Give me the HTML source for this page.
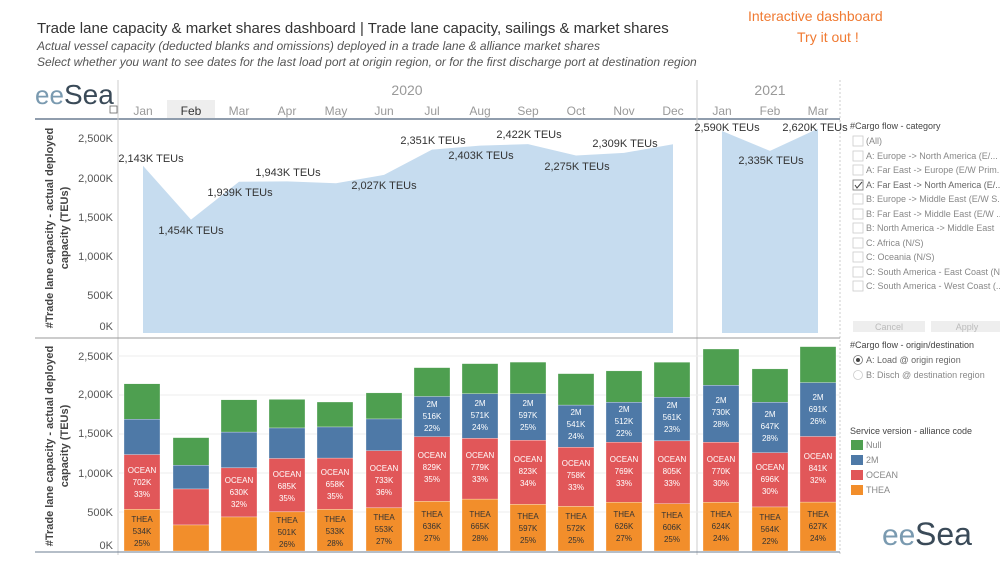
<!DOCTYPE html>
<html><head><meta charset="utf-8"><style>
body{margin:0;background:#fff;width:1000px;height:562px;overflow:hidden;font-family:"Liberation Sans",sans-serif}
svg text{font-family:"Liberation Sans",sans-serif}
</style></head><body>
<svg width="1000" height="562" viewBox="0 0 1000 562" xmlns="http://www.w3.org/2000/svg">
<text x="37" y="33" font-size="15" fill="#333">Trade lane capacity &amp; market shares dashboard  |  Trade lane capacity, sailings &amp; market shares</text>
<text x="37" y="50" font-size="12" font-style="italic" fill="#555">Actual vessel capacity (deducted blanks and omissions) deployed in a trade lane &amp; alliance market shares</text>
<text x="37" y="66" font-size="12" font-style="italic" fill="#555">Select whether you want to see dates for the last load port at origin region, or for the first discharge port at destination region</text>
<text x="748" y="21" font-size="14" fill="#f07a32">Interactive dashboard</text>
<text x="797" y="42" font-size="14" fill="#f07a32">Try it out !</text>
<text x="35" y="104" font-size="26" fill="#7a9ab0">ee</text><text x="64" y="104" font-size="28" fill="#3a4a58">Sea</text>
<rect x="110" y="106" width="7" height="7" fill="none" stroke="#666" stroke-width="0.8"/>
<text x="407" y="95" font-size="14" fill="#999" text-anchor="middle">2020</text>
<text x="770" y="95" font-size="14" fill="#999" text-anchor="middle">2021</text>
<rect x="167" y="100" width="48" height="18" fill="#eee"/>
<g font-size="12" fill="#999" text-anchor="middle">
<text x="143" y="115">Jan</text><text x="191" y="115" fill="#333">Feb</text><text x="239" y="115">Mar</text><text x="287" y="115">Apr</text><text x="336" y="115">May</text><text x="384" y="115">Jun</text><text x="432" y="115">Jul</text><text x="480" y="115">Aug</text><text x="528" y="115">Sep</text><text x="576" y="115">Oct</text><text x="624" y="115">Nov</text><text x="673" y="115">Dec</text><text x="722" y="115">Jan</text><text x="770" y="115">Feb</text><text x="818" y="115">Mar</text>
</g>
<line x1="35" y1="119" x2="840" y2="119" stroke="#6b7d92" stroke-width="1.5"/>
<line x1="118" y1="80" x2="118" y2="555" stroke="#ccc"/>
<line x1="697" y1="80" x2="697" y2="555" stroke="#ccc"/>
<line x1="840" y1="80" x2="840" y2="555" stroke="#ccc" stroke-dasharray="2,2"/>
<line x1="35" y1="338" x2="840" y2="338" stroke="#999"/>
<line x1="35" y1="552" x2="840" y2="552" stroke="#6b7d92"/>
<g stroke="#eee"><line x1="118" y1="356" x2="840" y2="356"/><line x1="118" y1="395" x2="840" y2="395"/><line x1="118" y1="434" x2="840" y2="434"/><line x1="118" y1="473" x2="840" y2="473"/><line x1="118" y1="512" x2="840" y2="512"/></g>
<path fill="#c6dcef" d="M143,333 L143,165.8 L191,219.6 L239,181.8 L287,181.4 L336,183.2 L384,174.9 L432,149.6 L480,145.6 L528,144.1 L576,155.5 L624,152.9 L673,144.2 L673,333 Z"/>
<path fill="#c6dcef" d="M722,333 L722,131 L770,150.9 L818,128.6 L818,333 Z"/>
<g font-size="11" fill="#555" text-anchor="end">
<text x="113" y="142">2,500K</text><text x="113" y="182">2,000K</text><text x="113" y="221">1,500K</text><text x="113" y="260">1,000K</text><text x="113" y="299">500K</text><text x="113" y="330">0K</text>
<text x="113" y="360">2,500K</text><text x="113" y="398">2,000K</text><text x="113" y="437">1,500K</text><text x="113" y="477">1,000K</text><text x="113" y="516">500K</text><text x="113" y="549">0K</text>
</g>
<g font-size="11" fill="#444" font-weight="bold" text-anchor="middle">
<text transform="translate(53,228) rotate(-90)">#Trade lane capacity - actual deployed</text>
<text transform="translate(68,228) rotate(-90)">capacity (TEUs)</text>
<text transform="translate(53,446) rotate(-90)">#Trade lane capacity - actual deployed</text>
<text transform="translate(68,446) rotate(-90)">capacity (TEUs)</text>
</g>
<g font-size="11" fill="#333" text-anchor="middle">
<text x="151" y="162">2,143K TEUs</text><text x="191" y="234">1,454K TEUs</text><text x="240" y="196">1,939K TEUs</text><text x="288" y="176">1,943K TEUs</text><text x="384" y="189">2,027K TEUs</text><text x="433" y="144">2,351K TEUs</text><text x="481" y="159">2,403K TEUs</text><text x="529" y="138">2,422K TEUs</text><text x="577" y="170">2,275K TEUs</text><text x="625" y="147">2,309K TEUs</text><text x="727" y="131">2,590K TEUs</text><text x="771" y="164">2,335K TEUs</text><text x="815" y="131">2,620K TEUs</text>
</g>
<g stroke="#fff" stroke-width="0.3">
<g transform="translate(124,0)"><rect y="383.8" width="36" height="35.4" fill="#4e9f50"/><rect y="419.2" width="36" height="35.4" fill="#4e79a7"/><rect y="454.6" width="36" height="54.7" fill="#e15759"/><rect y="509.3" width="36" height="41.7" fill="#f28e2b"/></g>
<g transform="translate(173,0)"><rect y="437.6" width="36" height="27.6" fill="#4e9f50"/><rect y="465.2" width="36" height="23.8" fill="#4e79a7"/><rect y="489" width="36" height="36" fill="#e15759"/><rect y="525" width="36" height="26" fill="#f28e2b"/></g>
<g transform="translate(221,0)"><rect y="399.8" width="36" height="32.3" fill="#4e9f50"/><rect y="432.1" width="36" height="35.8" fill="#4e79a7"/><rect y="467.9" width="36" height="49.1" fill="#e15759"/><rect y="517" width="36" height="34" fill="#f28e2b"/></g>
<g transform="translate(269,0)"><rect y="399.4" width="36" height="28.6" fill="#4e9f50"/><rect y="428" width="36" height="30.5" fill="#4e79a7"/><rect y="458.5" width="36" height="53.4" fill="#e15759"/><rect y="511.9" width="36" height="39.1" fill="#f28e2b"/></g>
<g transform="translate(317,0)"><rect y="402" width="36" height="25" fill="#4e9f50"/><rect y="427" width="36" height="31.1" fill="#4e79a7"/><rect y="458.1" width="36" height="51.3" fill="#e15759"/><rect y="509.4" width="36" height="41.6" fill="#f28e2b"/></g>
<g transform="translate(366,0)"><rect y="392.9" width="36" height="26.1" fill="#4e9f50"/><rect y="419" width="36" height="31.7" fill="#4e79a7"/><rect y="450.7" width="36" height="57.2" fill="#e15759"/><rect y="507.9" width="36" height="43.1" fill="#f28e2b"/></g>
<g transform="translate(414,0)"><rect y="367.6" width="36" height="28.9" fill="#4e9f50"/><rect y="396.5" width="36" height="40.2" fill="#4e79a7"/><rect y="436.7" width="36" height="64.7" fill="#e15759"/><rect y="501.4" width="36" height="49.6" fill="#f28e2b"/></g>
<g transform="translate(462,0)"><rect y="363.6" width="36" height="30.2" fill="#4e9f50"/><rect y="393.8" width="36" height="44.6" fill="#4e79a7"/><rect y="438.4" width="36" height="60.7" fill="#e15759"/><rect y="499.1" width="36" height="51.9" fill="#f28e2b"/></g>
<g transform="translate(510,0)"><rect y="362.1" width="36" height="31.6" fill="#4e9f50"/><rect y="393.7" width="36" height="46.5" fill="#4e79a7"/><rect y="440.2" width="36" height="64.2" fill="#e15759"/><rect y="504.4" width="36" height="46.6" fill="#f28e2b"/></g>
<g transform="translate(558,0)"><rect y="373.6" width="36" height="31.5" fill="#4e9f50"/><rect y="405.1" width="36" height="42.2" fill="#4e79a7"/><rect y="447.3" width="36" height="59.1" fill="#e15759"/><rect y="506.4" width="36" height="44.6" fill="#f28e2b"/></g>
<g transform="translate(606,0)"><rect y="370.9" width="36" height="31.4" fill="#4e9f50"/><rect y="402.3" width="36" height="40" fill="#4e79a7"/><rect y="442.2" width="36" height="60" fill="#e15759"/><rect y="502.2" width="36" height="48.8" fill="#f28e2b"/></g>
<g transform="translate(654,0)"><rect y="362.2" width="36" height="35" fill="#4e9f50"/><rect y="397.2" width="36" height="43.7" fill="#4e79a7"/><rect y="440.9" width="36" height="62.8" fill="#e15759"/><rect y="503.7" width="36" height="47.3" fill="#f28e2b"/></g>
<g transform="translate(703,0)"><rect y="349" width="36" height="36.3" fill="#4e9f50"/><rect y="385.3" width="36" height="57" fill="#4e79a7"/><rect y="442.3" width="36" height="60" fill="#e15759"/><rect y="502.3" width="36" height="48.7" fill="#f28e2b"/></g>
<g transform="translate(752,0)"><rect y="368.9" width="36" height="33.4" fill="#4e9f50"/><rect y="402.3" width="36" height="50.4" fill="#4e79a7"/><rect y="452.7" width="36" height="54.3" fill="#e15759"/><rect y="507" width="36" height="44" fill="#f28e2b"/></g>
<g transform="translate(800,0)"><rect y="346.6" width="36" height="36" fill="#4e9f50"/><rect y="382.6" width="36" height="53.9" fill="#4e79a7"/><rect y="436.5" width="36" height="65.6" fill="#e15759"/><rect y="502.1" width="36" height="48.9" fill="#f28e2b"/></g>
</g>
<g font-size="8" text-anchor="middle" fill="#fff">
<text x="142" y="473">OCEAN</text><text x="142" y="485">702K</text><text x="142" y="497">33%</text>
<text x="239" y="483">OCEAN</text><text x="239" y="495">630K</text><text x="239" y="507">32%</text>
<text x="287" y="477">OCEAN</text><text x="287" y="489">685K</text><text x="287" y="501">35%</text>
<text x="335" y="475">OCEAN</text><text x="335" y="487">658K</text><text x="335" y="499">35%</text>
<text x="384" y="471">OCEAN</text><text x="384" y="483">733K</text><text x="384" y="495">36%</text>
<text x="432" y="458">OCEAN</text><text x="432" y="470">829K</text><text x="432" y="482">35%</text>
<text x="480" y="458">OCEAN</text><text x="480" y="470">779K</text><text x="480" y="482">33%</text>
<text x="528" y="462">OCEAN</text><text x="528" y="474">823K</text><text x="528" y="486">34%</text>
<text x="576" y="466">OCEAN</text><text x="576" y="478">758K</text><text x="576" y="490">33%</text>
<text x="624" y="462">OCEAN</text><text x="624" y="474">769K</text><text x="624" y="486">33%</text>
<text x="672" y="462">OCEAN</text><text x="672" y="474">805K</text><text x="672" y="486">33%</text>
<text x="721" y="462">OCEAN</text><text x="721" y="474">770K</text><text x="721" y="486">30%</text>
<text x="770" y="470">OCEAN</text><text x="770" y="482">696K</text><text x="770" y="494">30%</text>
<text x="818" y="459">OCEAN</text><text x="818" y="471">841K</text><text x="818" y="483">32%</text>
<text x="432" y="407">2M</text><text x="432" y="419">516K</text><text x="432" y="431">22%</text>
<text x="480" y="406">2M</text><text x="480" y="418">571K</text><text x="480" y="430">24%</text>
<text x="528" y="406">2M</text><text x="528" y="418">597K</text><text x="528" y="430">25%</text>
<text x="576" y="415">2M</text><text x="576" y="427">541K</text><text x="576" y="439">24%</text>
<text x="624" y="412">2M</text><text x="624" y="424">512K</text><text x="624" y="436">22%</text>
<text x="672" y="408">2M</text><text x="672" y="420">561K</text><text x="672" y="432">23%</text>
<text x="721" y="403">2M</text><text x="721" y="415">730K</text><text x="721" y="427">28%</text>
<text x="770" y="417">2M</text><text x="770" y="429">647K</text><text x="770" y="441">28%</text>
<text x="818" y="400">2M</text><text x="818" y="412">691K</text><text x="818" y="424">26%</text>
</g>
<g font-size="8" text-anchor="middle" fill="#333">
<text x="142" y="522">THEA</text><text x="142" y="534">534K</text><text x="142" y="546">25%</text>
<text x="287" y="523">THEA</text><text x="287" y="535">501K</text><text x="287" y="547">26%</text>
<text x="335" y="522">THEA</text><text x="335" y="534">533K</text><text x="335" y="546">28%</text>
<text x="384" y="520">THEA</text><text x="384" y="532">553K</text><text x="384" y="544">27%</text>
<text x="432" y="517">THEA</text><text x="432" y="529">636K</text><text x="432" y="541">27%</text>
<text x="480" y="517">THEA</text><text x="480" y="529">665K</text><text x="480" y="541">28%</text>
<text x="528" y="519">THEA</text><text x="528" y="531">597K</text><text x="528" y="543">25%</text>
<text x="576" y="519">THEA</text><text x="576" y="531">572K</text><text x="576" y="543">25%</text>
<text x="624" y="517">THEA</text><text x="624" y="529">626K</text><text x="624" y="541">27%</text>
<text x="672" y="518">THEA</text><text x="672" y="530">606K</text><text x="672" y="542">25%</text>
<text x="721" y="517">THEA</text><text x="721" y="529">624K</text><text x="721" y="541">24%</text>
<text x="770" y="520">THEA</text><text x="770" y="532">564K</text><text x="770" y="544">22%</text>
<text x="818" y="517">THEA</text><text x="818" y="529">627K</text><text x="818" y="541">24%</text>
</g>
<g font-size="9" fill="#444">
<text x="850" y="129">#Cargo flow - category</text>
<g fill="#888">
<text x="866" y="144">(All)</text><text x="866" y="159">A: Europe -&gt; North America (E/...</text><text x="866" y="173">A: Far East -&gt; Europe (E/W Prim...</text><text x="866" y="188" fill="#666">A: Far East -&gt; North America (E/...</text><text x="866" y="202">B: Europe -&gt; Middle East (E/W S...</text><text x="866" y="217">B: Far East -&gt; Middle East (E/W ...</text><text x="866" y="231">B: North America -&gt; Middle East</text><text x="866" y="246">C: Africa (N/S)</text><text x="866" y="260">C: Oceania (N/S)</text><text x="866" y="275">C: South America - East Coast (N...</text><text x="866" y="289">C: South America - West Coast (...</text>
</g>
<text x="850" y="348">#Cargo flow - origin/destination</text>
<text x="866" y="363" fill="#666">A: Load @ origin region</text>
<text x="866" y="378" fill="#888">B: Disch @ destination region</text>
<text x="850" y="434">Service version - alliance code</text>
<text x="866" y="448" fill="#888">Null</text><text x="866" y="463" fill="#888">2M</text><text x="866" y="478" fill="#888">OCEAN</text><text x="866" y="493" fill="#888">THEA</text>
</g>
<g fill="#fff" stroke="#ccc" stroke-width="0.8">
<rect x="853" y="136" width="10" height="10"/><rect x="853" y="151" width="10" height="10"/><rect x="853" y="165" width="10" height="10"/><rect x="853" y="180" width="10" height="10" stroke="#777"/><rect x="853" y="194" width="10" height="10"/><rect x="853" y="209" width="10" height="10"/><rect x="853" y="223" width="10" height="10"/><rect x="853" y="238" width="10" height="10"/><rect x="853" y="252" width="10" height="10"/><rect x="853" y="267" width="10" height="10"/><rect x="853" y="281" width="10" height="10"/>
<circle cx="858" cy="360" r="4.5" stroke="#777"/><circle cx="858" cy="375" r="4.5"/>
</g>
<path d="M855,185 l2,3 l5,-6" fill="none" stroke="#444" stroke-width="1"/>
<circle cx="858" cy="360" r="2" fill="#444"/>
<rect x="853" y="321" width="72" height="11" fill="#eee"/><rect x="931" y="321" width="69" height="11" fill="#eee"/>
<text x="889" y="330" font-size="9" fill="#bbb" text-anchor="middle">Cancel</text><text x="967" y="330" font-size="9" fill="#bbb" text-anchor="middle">Apply</text>
<rect x="851" y="440" width="12" height="10" fill="#4e9f50"/><rect x="851" y="455" width="12" height="10" fill="#4e79a7"/><rect x="851" y="470" width="12" height="10" fill="#e15759"/><rect x="851" y="485" width="12" height="10" fill="#f28e2b"/>
<text x="882" y="545" font-size="30" fill="#7a9ab0">ee</text><text x="915" y="545" font-size="32" fill="#3a4a58">Sea</text>
</svg>
</body></html>
